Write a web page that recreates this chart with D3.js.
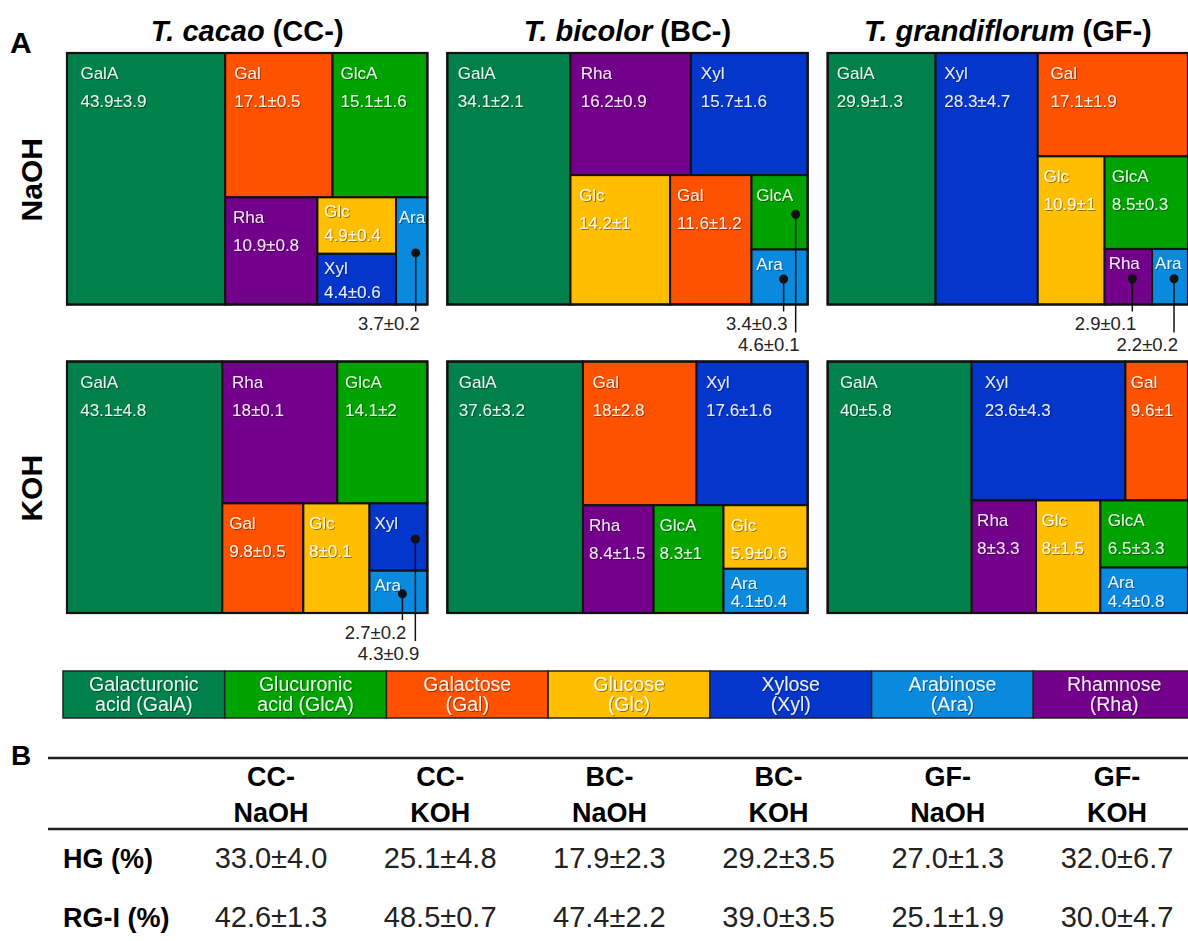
<!DOCTYPE html>
<html>
<head>
<meta charset="utf-8">
<script src="https://cdn.jsdelivr.net/npm/d3@7"></script>
<style>
  body { margin: 0; background: #fff; }
  svg { display: block; font-family: "Liberation Sans", Arial, sans-serif; }
</style>
</head>
<body>
<svg id="chart" width="1188" height="941"></svg>
<script>
// ---- data ----
const sugars = ['GalA', 'GlcA', 'Gal', 'Glc', 'Xyl', 'Ara', 'Rha'];
const sugarNames = [
    ['Galacturonic', 'acid (GalA)'], ['Glucuronic', 'acid (GlcA)'], ['Galactose', '(Gal)'],
    ['Glucose', '(Glc)'], ['Xylose', '(Xyl)'], ['Arabinose', '(Ara)'], ['Rhamnose', '(Rha)']
];
const sugarColors = ['#00804a', '#00a200', '#ff5200', '#ffbe00', '#0536cc', '#0a8ade', '#72008a'];

const species = ['CC', 'BC', 'GF'];
const speciesLatin = ['T. cacao', 'T. bicolor', 'T. grandiflorum'];
const extractions = ['NaOH', 'KOH'];

// mol% in sugar order above
const ccNaOHMean = [43.9, 15.1, 17.1, 4.9, 4.4, 3.7, 10.9];
const ccNaOHSd   = [3.9, 1.6, 0.5, 0.4, 0.6, 0.2, 0.8];
const ccKOHMean  = [43.1, 14.1, 9.8, 8, 4.3, 2.7, 18];
const ccKOHSd    = [4.8, 2, 0.5, 0.1, 0.9, 0.2, 0.1];
const bcNaOHMean = [34.1, 4.6, 11.6, 14.2, 15.7, 3.4, 16.2];
const bcNaOHSd   = [2.1, 0.1, 1.2, 1, 1.6, 0.3, 0.9];
const bcKOHMean  = [37.6, 8.3, 18, 5.9, 17.6, 4.1, 8.4];
const bcKOHSd    = [3.2, 1, 2.8, 0.6, 1.6, 0.4, 1.5];
const gfNaOHMean = [29.9, 8.5, 17.1, 10.9, 28.3, 2.2, 2.9];
const gfNaOHSd   = [1.3, 0.3, 1.9, 1, 4.7, 0.2, 0.1];
const gfKOHMean  = [40, 6.5, 9.6, 8, 23.6, 4.4, 8];
const gfKOHSd    = [5.8, 3.3, 1, 1.5, 4.3, 0.8, 3.3];

// panel B table
const tableCols = ['CC-NaOH', 'CC-KOH', 'BC-NaOH', 'BC-KOH', 'GF-NaOH', 'GF-KOH'];
const tableRows = ['HG (%)', 'RG-I (%)'];
const hgMean  = [33.0, 25.1, 17.9, 29.2, 27.0, 32.0];
const hgSd    = [4.0, 4.8, 2.3, 3.5, 1.3, 6.7];
const rgiMean = [42.6, 48.5, 47.4, 39.0, 25.1, 30.0];
const rgiSd   = [1.3, 0.7, 2.2, 3.5, 1.9, 4.7];

const panels = [
    { species: 'CC', extraction: 'NaOH', mean: ccNaOHMean, sd: ccNaOHSd },
    { species: 'CC', extraction: 'KOH',  mean: ccKOHMean,  sd: ccKOHSd },
    { species: 'BC', extraction: 'NaOH', mean: bcNaOHMean, sd: bcNaOHSd },
    { species: 'BC', extraction: 'KOH',  mean: bcKOHMean,  sd: bcKOHSd },
    { species: 'GF', extraction: 'NaOH', mean: gfNaOHMean, sd: gfNaOHSd },
    { species: 'GF', extraction: 'KOH',  mean: gfKOHMean,  sd: gfKOHSd }
];

/**
 * Squarified tiling that aims for cells slightly taller than wide
 * (width/height ~ TARGET), which is what the original figure's tool did.
 */
const TARGET = 0.8;
function tileAspect(parent, x0, y0, x1, y1) {
    const nodes = parent.children;
    let rest = parent.value;
    let i0 = 0;
    while (i0 < nodes.length) {
        const dx = x1 - x0, dy = y1 - y0;
        const column = dx >= dy;
        const cost = i1 => {
            const sum = d3.sum(nodes.slice(i0, i1), d => d.value);
            let worst = 0;
            for (let i = i0; i < i1; i++) {
                const r = column
                    ? (dx * sum / rest) / (dy * nodes[i].value / sum)
                    : (dx * nodes[i].value / sum) / (dy * sum / rest);
                worst = Math.max(worst, r / TARGET, TARGET / r);
            }
            return worst;
        };
        let i1 = i0 + 1;
        let best = cost(i1);
        while (i1 < nodes.length && cost(i1 + 1) <= best) best = cost(++i1);

        const row = { children: nodes.slice(i0, i1) };
        row.value = d3.sum(row.children, d => d.value);
        if (column) {
            const x = x0 + dx * row.value / rest;
            d3.treemapSlice(row, x0, y0, x, y1);
            x0 = x;
        } else {
            const y = y0 + dy * row.value / rest;
            d3.treemapDice(row, x0, y0, x1, y);
            y0 = y;
        }
        rest -= row.value;
        i0 = i1;
    }
}

const fmt = (m, s) => `${m}±${s}`;

// ---- drawing ----
const svg = d3.select('#chart');

svg.append('defs').append('filter')
    .attr('id', 'shadow')
    .attr('x', '-20%').attr('y', '-20%').attr('width', '140%').attr('height', '140%')
    .append('feDropShadow')
    .attr('dx', 1).attr('dy', 1).attr('stdDeviation', 0.6)
    .attr('flood-color', '#000').attr('flood-opacity', 0.45);

const colX = d3.scaleBand().domain(species).range([67, 1188]).paddingInner(0.0525);
const rowY = d3.scaleBand().domain(extractions).range([53, 613]).paddingInner(0.1848);
const color = d3.scaleOrdinal().domain(sugars).range(sugarColors);

svg.append('text')
    .attr('x', 10).attr('y', 53)
    .attr('font-size', 30).attr('font-weight', 'bold')
    .text('A');

species.forEach((sp, i) => {
    const t = svg.append('text')
        .attr('x', colX(sp) + colX.bandwidth() / 2)
        .attr('y', 41)
        .attr('text-anchor', 'middle')
        .attr('font-size', 29)
        .attr('font-weight', 'bold');
    t.append('tspan').attr('font-style', 'italic').text(speciesLatin[i]);
    t.append('tspan').text(` (${sp}-)`);
});

extractions.forEach(ex => {
    svg.append('text')
        .attr('transform', `translate(31,${rowY(ex) + rowY.bandwidth() / 2 + 1}) rotate(-90)`)
        .attr('text-anchor', 'middle')
        .attr('dy', '0.36em')
        .attr('font-size', 30)
        .attr('font-weight', 'bold')
        .text(ex);
});

panels.forEach(p => {
    const w = colX.bandwidth(), h = rowY.bandwidth();
    const root = d3.hierarchy({
        children: sugars.map((s, i) => ({ name: s, i, value: p.mean[i], sd: p.sd[i] }))
    })
        .sum(d => d.value)
        .sort((a, b) => b.value - a.value || b.data.i - a.data.i);

    d3.treemap().size([w, h]).tile(tileAspect)(root);

    const g = svg.append('g')
        .attr('transform', `translate(${colX(p.species)},${rowY(p.extraction)})`);

    const cell = g.selectAll('g.cell')
        .data(root.leaves())
        .join('g')
        .attr('class', 'cell')
        .attr('transform', d => `translate(${d.x0},${d.y0})`);

    cell.append('rect')
        .attr('width', d => d.x1 - d.x0)
        .attr('height', d => d.y1 - d.y0)
        .attr('fill', d => color(d.data.name))
        .attr('stroke', '#111')
        .attr('stroke-width', 2);

    const outside = [];
    cell.each(function (d) {
        const cw = d.x1 - d.x0, ch = d.y1 - d.y0;
        const pad = Math.max(2, Math.min(15, cw * 0.085));
        const small = ch < 60;
        const c = d3.select(this);
        const label = (txt, y) => c.append('text')
            .attr('x', pad).attr('y', y)
            .attr('font-size', 17)
            .attr('fill', '#fff').attr('fill-opacity', 0.9)
            .attr('filter', 'url(#shadow)')
            .text(txt);

        label(d.data.name, small ? 20 : 26);
        const v = label(fmt(d.data.value, d.data.sd), small ? Math.min(ch - 6, 44) : 54);
        if (v.node().getComputedTextLength() + pad + 2 > cw) {
            v.remove();
            outside.push(d);
        }
    });

    g.append('rect')
        .attr('width', w).attr('height', h)
        .attr('fill', 'none')
        .attr('stroke', '#111')
        .attr('stroke-width', 2.2);

    // values of small cells go below the panel on leader lines
    outside.forEach(d => {
        const stacked = outside.some(o => o !== d && Math.abs(o.x0 - d.x0) < 1 && o.y0 > d.y0);
        d.dotX = stacked ? d.x1 - 12 : Math.min((d.x0 + d.x1) / 2 + 4, d.x1 - 6);
        d.dotY = (d.y0 + d.y1) / 2 + 2;
    });
    outside.sort((a, b) => a.dotX - b.dotX).forEach((d, k) => {
        const ty = h + 26 + 21 * k;
        g.append('line')
            .attr('x1', d.dotX).attr('x2', d.dotX)
            .attr('y1', d.dotY).attr('y2', ty - 19)
            .attr('stroke', '#111').attr('stroke-width', 1.5);
        g.append('circle')
            .attr('cx', d.dotX).attr('cy', d.dotY).attr('r', 4.5)
            .attr('fill', '#111');
        g.append('text')
            .attr('x', d.dotX + 4).attr('y', ty)
            .attr('text-anchor', 'end')
            .attr('font-size', 18.5)
            .attr('fill', '#222')
            .text(fmt(d.data.value, d.data.sd));
    });
});

// ---- legend bar ----
const legX = d3.scaleBand().domain(sugars).range([63, 1195]);
const leg = svg.append('g').attr('transform', 'translate(0,671)');
const legItem = leg.selectAll('g')
    .data(sugars)
    .join('g')
    .attr('transform', d => `translate(${legX(d)},0)`);

legItem.append('rect')
    .attr('width', legX.bandwidth()).attr('height', 47)
    .attr('fill', d => color(d))
    .attr('stroke', '#222').attr('stroke-width', 1.5);

// two stacked labels per swatch
[0, 1].forEach(line => {
    legItem.append('text')
        .attr('x', legX.bandwidth() / 2)
        .attr('y', 20 + line * 20)
        .attr('text-anchor', 'middle')
        .attr('font-size', 19.5)
        .attr('fill', '#fff').attr('fill-opacity', 0.9)
        .attr('filter', 'url(#shadow)')
        .text(d => sugarNames[sugars.indexOf(d)][line]);
});

// ---- panel B table ----
svg.append('text')
    .attr('x', 11).attr('y', 765)
    .attr('font-size', 28).attr('font-weight', 'bold')
    .text('B');

[758, 829].forEach(y => {
    svg.append('line')
        .attr('x1', 48).attr('x2', 1188)
        .attr('y1', y).attr('y2', y)
        .attr('stroke', '#222').attr('stroke-width', 2.5);
});

const tabX = d3.scaleBand().domain(tableCols).range([186.4, 1201.6]);
const colCenter = c => tabX(c) + tabX.bandwidth() / 2;

tableCols.forEach(c => {
    const [a, b] = c.split('-');
    svg.append('text')
        .attr('x', colCenter(c)).attr('y', 786)
        .attr('text-anchor', 'middle')
        .attr('font-size', 27).attr('font-weight', 'bold')
        .text(a + '-');
    svg.append('text')
        .attr('x', colCenter(c)).attr('y', 822)
        .attr('text-anchor', 'middle')
        .attr('font-size', 27).attr('font-weight', 'bold')
        .text(b);
});

const rowBase = [868, 927];
const rowData = [[hgMean, hgSd], [rgiMean, rgiSd]];
tableRows.forEach((r, j) => {
    svg.append('text')
        .attr('x', 63).attr('y', rowBase[j])
        .attr('font-size', 27).attr('font-weight', 'bold')
        .text(r);
    tableCols.forEach((c, i) => {
        svg.append('text')
            .attr('x', colCenter(c)).attr('y', rowBase[j])
            .attr('text-anchor', 'middle')
            .attr('font-size', 29)
            .attr('fill', '#222')
            .text(`${rowData[j][0][i].toFixed(1)}±${rowData[j][1][i].toFixed(1)}`);
    });
});
</script>
</body>
</html>
